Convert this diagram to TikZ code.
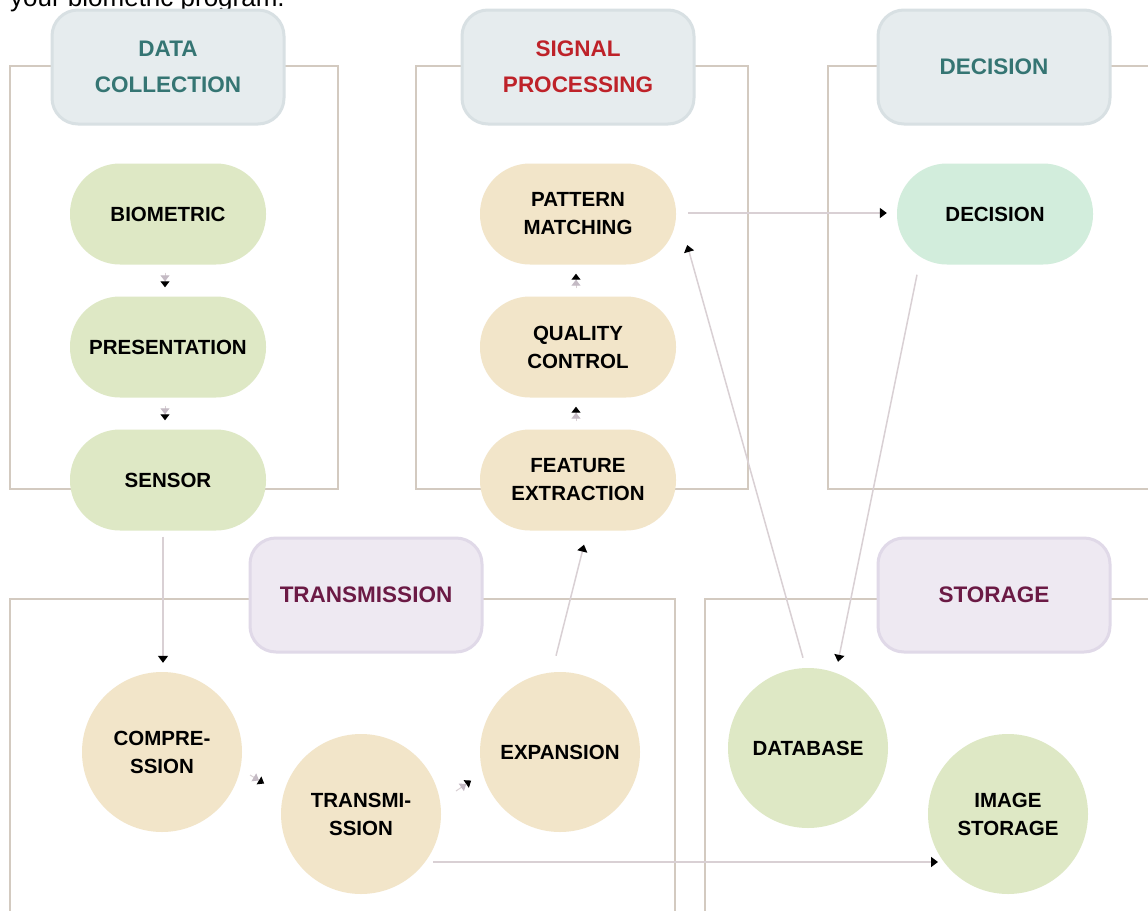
\documentclass[tikz,border=0pt]{standalone}
\usepackage{fontspec}
\setmainfont{Liberation Sans}
\usetikzlibrary{arrows.meta,calc}
\definecolor{frameclr}{HTML}{D3CAC0}
\definecolor{connclr}{HTML}{D9D0D4}
\definecolor{greenfill}{HTML}{DEE8C5}
\definecolor{beigefill}{HTML}{F2E5C9}
\definecolor{mintfill}{HTML}{D2EDDC}
\definecolor{hdrblue}{HTML}{E6ECEE}
\definecolor{hdrblueedge}{HTML}{D8E0E3}
\definecolor{hdrlav}{HTML}{EEE9F2}
\definecolor{hdrlavedge}{HTML}{E0D9E8}
\definecolor{tealtxt}{HTML}{357573}
\definecolor{redtxt}{HTML}{BE2229}
\definecolor{maroontxt}{HTML}{6B1A45}
\definecolor{tipgray}{HTML}{C4BAC4}
\begin{document}
\begin{tikzpicture}[x=1pt,y=-1pt,
  framebox/.style={draw=frameclr,line width=1.6pt},
  header/.style={rounded corners=26pt,minimum width=232pt,minimum height=114pt,line width=3pt,
    font=\fontsize{22.5}{36}\selectfont\bfseries,align=center,inner sep=0pt},
  bluehdr/.style={header,fill=hdrblue,draw=hdrblueedge},
  lavhdr/.style={header,fill=hdrlav,draw=hdrlavedge,text=maroontxt},
  stadium/.style={rounded corners=50pt,minimum width=196pt,minimum height=101pt,
    font=\fontsize{20.5}{28}\selectfont\bfseries,align=center,inner sep=0pt},
  bubble/.style={circle,minimum size=160pt,font=\fontsize{20.5}{28}\selectfont\bfseries,align=center,inner sep=0pt},
  link/.style={draw=connclr,line width=1.5pt,-{Triangle[width=10pt,length=7pt,color=black]}},
  shortarr/.style={draw=connclr,line width=1pt,
    -{Triangle[width=9pt,length=6pt,color=tipgray] Triangle[width=9pt,length=6pt,color=black,sep=1pt]}},
]
\useasboundingbox (0,0) rectangle (1148,910);
\clip (0,0) rectangle (1148,910);
\fill[white] (0,0) rectangle (1148,910);

% caption remnant (cut off at the top edge, as in the reference)
\node[anchor=base west,font=\fontsize{26}{30}\selectfont,inner sep=0pt] (cap) at (10,6) {your biometric program.};

% frames
\draw[framebox] (10,66) rectangle (338,489);
\draw[framebox] (416,66) rectangle (748,489);
\draw[framebox] (1160,66) -- (828,66) -- (828,489) -- (1160,489);
\draw[framebox] (10,920) -- (10,599) -- (675,599) -- (675,920);
\draw[framebox] (705,920) -- (705,599) -- (1160,599);

% headers
\node[bluehdr,text=tealtxt] (hDC) at (168,67) {DATA\\COLLECTION};
\node[bluehdr,text=redtxt] (hSP) at (578,67) {SIGNAL\\PROCESSING};
\node[bluehdr,text=tealtxt] (hDE) at (994,67) {DECISION};
\node[lavhdr] (hTR) at (366,595) {TRANSMISSION};
\node[lavhdr] (hST) at (994,595) {STORAGE};

% nodes
\node[stadium,fill=greenfill] (BIO) at (168,214) {BIOMETRIC};
\node[stadium,fill=greenfill] (PRES) at (168,347) {PRESENTATION};
\node[stadium,fill=greenfill] (SENS) at (168,480) {SENSOR};
\node[stadium,fill=beigefill] (PM) at (578,214) {PATTERN\\MATCHING};
\node[stadium,fill=beigefill] (QC) at (578,347) {QUALITY\\CONTROL};
\node[stadium,fill=beigefill] (FE) at (578,480) {FEATURE\\EXTRACTION};
\node[stadium,fill=mintfill] (DEC) at (995,214) {DECISION};
\node[bubble,fill=beigefill] (COMP) at (162,752) {COMPRE-\\SSION};
\node[bubble,fill=beigefill] (TRANS) at (361,814) {TRANSMI-\\SSION};
\node[bubble,fill=beigefill] (EXP) at (560,752) {EXPANSION};
\node[bubble,fill=greenfill] (DB) at (808,748) {DATABASE};
\node[bubble,fill=greenfill] (IMG) at (1008,814) {IMAGE\\STORAGE};

% short arrows
\draw[shortarr] ($(BIO.south)+(-3,8)$) -- ($(PRES.north)+(-3,-8)$);
\draw[shortarr] ($(PRES.south)+(-3,8)$) -- ($(SENS.north)+(-3,-8)$);
\draw[shortarr] ($(FE.north)+(-2,-8)$) -- ($(QC.south)+(-2,8)$);
\draw[shortarr] ($(QC.north)+(-2,-8)$) -- ($(PM.south)+(-2,8)$);
\draw[shortarr] ($(COMP.center)+(88,23)$) -- ($(TRANS.center)+(-96,-30)$);
\draw[shortarr] ($(TRANS.center)+(95,-23)$) -- ($(EXP.center)+(-88,28)$);

% long connectors
\draw[link] ($(COMP.north |- SENS.south)+(1,6)$) -- ($(COMP.north)+(1,-9)$);
\draw[link] ($(EXP.north)+(-4,-16)$) -- ($(FE.south)+(6,14)$);
\draw[link] ($(PM.east)+(12,-1)$) -- ($(DEC.west)+(-10,-1)$);
\draw[link] ($(DB.north)+(-5,-10)$) -- ($(PM.east)+(11,31)$);
\draw[link] ($(DEC.south)+(-78,10)$) -- ($(DB.north)+(30,-6)$);
\draw[link] ($(TRANS.center)+(72,48)$) -- ($(IMG.center)+(-70,48)$);
\end{tikzpicture}
\end{document}
